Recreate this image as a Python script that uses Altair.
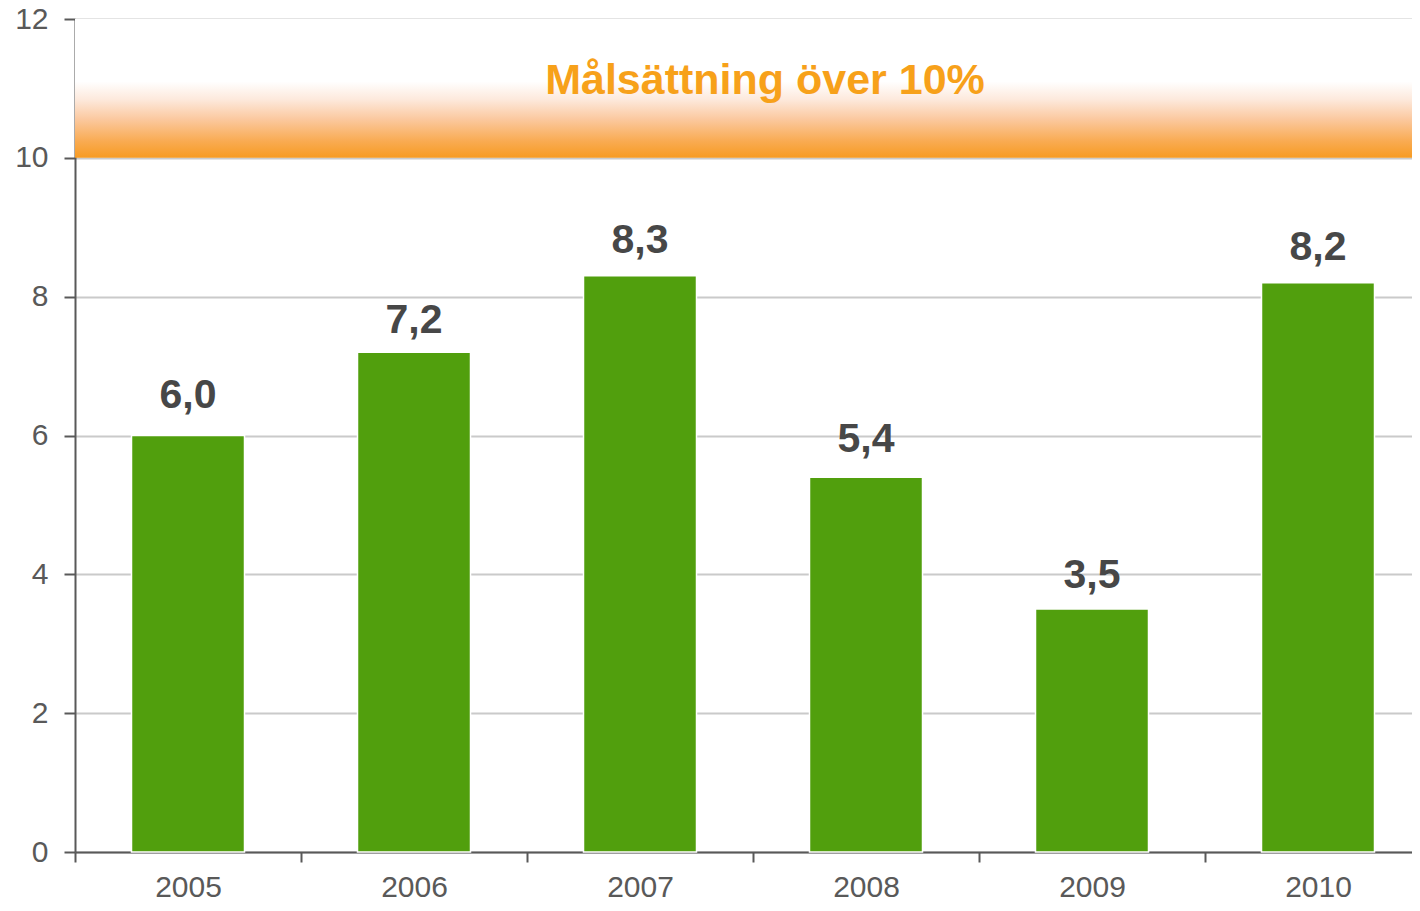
import altair as alt
import pandas as pd

# ---- data ----
years = ["2005", "2006", "2007", "2008", "2009", "2010"]
values = [6.0, 7.2, 8.3, 5.4, 3.5, 8.2]
label_pos = [6.40, 7.48, 8.63, 5.76, 3.80, 8.53]   # where each value label sits
y_ticks = [0, 2, 4, 6, 8, 10, 12]
target_low = 10
target_high = 12
target_label = "Målsättning över 10%"
target_label_y = 11.11

labels = [f"{v:.1f}".replace(".", ",") for v in values]
df = pd.DataFrame({"year": years, "value": values, "label": labels, "lpos": label_pos})
band_df = pd.DataFrame({"lo": [target_low], "hi": [target_high], "txt": [target_label], "ty": [target_label_y]})

PAD_L, PAD_T, PAD_B = 67, 11, 51
W, H = 1404 - PAD_L, 833
X_RANGE = 1356
FONT = "Liberation Sans"
GREEN = "#519F0D"

x_axis = alt.Axis(title=None, labelAngle=0, tickBand="extent",
                  labelFontSize=30, labelFont=FONT, labelColor="#595959",
                  labelPadding=10, tickSize=10, tickWidth=2, tickColor="#595959",
                  domainColor="#595959", domainWidth=2, grid=False)
x_scale = alt.Scale(paddingInner=0, paddingOuter=0, range=[0, X_RANGE])
y_axis = alt.Axis(title=None, values=y_ticks, labelFontSize=30, labelFont=FONT,
                  labelColor="#595959", labelPadding=16, tickSize=11, tickWidth=2,
                  tickColor="#595959", domainColor="#595959", domainWidth=2,
                  grid=True, gridColor="#CACACA", gridWidth=2)
y_scale = alt.Scale(domain=[0, 12], nice=False)

gradient = alt.Gradient(
    gradient="linear",
    stops=[
        alt.GradientStop(offset=0.0, color="#F79B22"),
        alt.GradientStop(offset=0.12, color="#F9AB52"),
        alt.GradientStop(offset=0.28, color="#FBC9A0"),
        alt.GradientStop(offset=0.42, color="#FDE9DC"),
        alt.GradientStop(offset=0.55, color="#FFFFFF"),
        alt.GradientStop(offset=1.0, color="#FFFFFF"),
    ],
    x1=0, x2=0, y1=1, y2=0,
)

band = alt.Chart(band_df).mark_rect(color=gradient).encode(
    x=alt.value(0), x2=alt.value("width"),
    y=alt.Y("lo:Q", scale=y_scale, axis=y_axis), y2="hi:Q",
)

band_text = alt.Chart(band_df).mark_text(
    font=FONT, fontSize=43, fontWeight="bold", color="#F7A11A", baseline="middle", align="center"
).encode(
    x=alt.value(690), y=alt.Y("ty:Q", scale=y_scale, axis=y_axis), text="txt:N"
)

bars = alt.Chart(df).mark_bar(
    color=GREEN, width=alt.RelativeBandSize(0.5), stroke="white", strokeWidth=1.5
).encode(
    x=alt.X("year:N", sort=years, scale=x_scale, axis=x_axis),
    y=alt.Y("value:Q", scale=y_scale, axis=y_axis),
)

texts = alt.Chart(df).mark_text(
    font=FONT, fontSize=41, fontWeight="bold", color="#474747", baseline="alphabetic"
).encode(
    x=alt.X("year:N", sort=years, scale=x_scale, axis=x_axis),
    y=alt.Y("lpos:Q", scale=y_scale, axis=y_axis),
    text="label:N",
)

chart = alt.layer(band, bars, band_text, texts).properties(
    width=W, height=H,
    autosize=alt.AutoSizeParams(type="none"),
    padding={"left": PAD_L, "top": PAD_T, "right": 0, "bottom": PAD_B},
).configure_view(stroke=None).configure(background="white")

chart.save("out.html", embed_options={"renderer": "svg", "actions": False})
